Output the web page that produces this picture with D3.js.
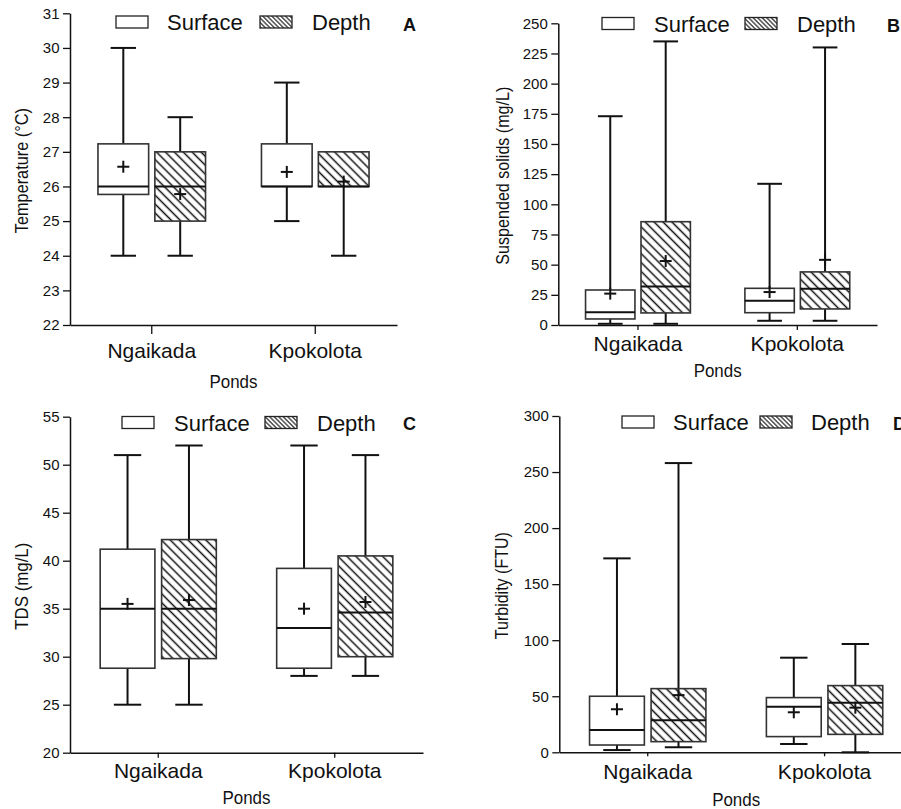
<!DOCTYPE html>
<html><head><meta charset="utf-8">
<script src="https://cdn.jsdelivr.net/npm/d3@7"></script>
<style>body{margin:0;background:#fff} svg{display:block;font-family:"Liberation Sans",Arial,Helvetica,sans-serif}</style>
</head><body><svg id="c" width="901" height="809"></svg>
<script>
// ---------- data ----------
const ponds = ["Ngaikada", "Kpokolota"];
const layers = ["Surface", "Depth"];
// each row (one per pond): [min, q1, median, q3, max, mean]
const tempSurface = [[24, 25.77, 26, 27.23, 30, 26.57], [25, 26, 26, 27.23, 29, 26.42]];
const tempDepth   = [[24, 25, 26, 27, 28, 25.78], [24, 26, 26, 27, 27, 26.14]];
const ssSurface   = [[1, 5, 10.5, 29, 173, 26], [3.5, 10.2, 20, 30.4, 117, 27.3]];
const ssDepth     = [[1, 10, 31.8, 85.6, 235, 53], [3.5, 13.3, 30, 44, 230, 54]];
const tdsSurface  = [[25, 28.8, 35, 41.2, 51, 35.5], [28, 28.8, 33, 39.2, 52, 35]];
const tdsDepth    = [[25, 29.8, 35, 42.2, 52, 35.9], [28, 30, 34.6, 40.5, 51, 35.7]];
const turbSurface = [[2, 6.5, 20, 50, 173, 38.4], [7.4, 14, 40.7, 48.8, 84.4, 35.7]];
const turbDepth   = [[4.5, 9.5, 28.5, 56.8, 258, 51], [0, 16, 44.3, 59.5, 96.6, 39.8]];
const tempTicks = [22, 23, 24, 25, 26, 27, 28, 29, 30, 31];
const ssTicks   = [0, 25, 50, 75, 100, 125, 150, 175, 200, 225, 250];
const tdsTicks  = [20, 25, 30, 35, 40, 45, 50, 55];
const turbTicks = [0, 50, 100, 150, 200, 250, 300];
const xTitle = "Ponds";
const panelLetters = ["A", "B", "C", "D"];
const yTitles = ["Temperature (°C)", "Suspended solids (mg/L)", "TDS (mg/L)", "Turbidity (FTU)"];

// ---------- layout ----------
const panels = [
  {letter: panelLetters[0], title: yTitles[0], surface: tempSurface, depth: tempDepth, ticks: tempTicks,
   x0: 70, x1: 397, yTop: 13.3, yBot: 325, catTick: 9, catDy: 33, pondsY: 388, titleX: 28, titleLen: 125,
   leg: {y: 16, sx: 116, stx: 167, dx: 260, dtx: 312, lx: 403, ly: 31}},
  {letter: panelLetters[1], title: yTitles[1], surface: ssSurface, depth: ssDepth, ticks: ssTicks,
   x0: 558.3, x1: 877, yTop: 23.3, yBot: 325, catTick: 5, catDy: 26, pondsY: 377, titleX: 509, titleLen: 178,
   leg: {y: 17.5, sx: 602, stx: 654, dx: 745, dtx: 797, lx: 887, ly: 32}},
  {letter: panelLetters[2], title: yTitles[2], surface: tdsSurface, depth: tdsDepth, ticks: tdsTicks,
   x0: 70, x1: 423, yTop: 416.7, yBot: 752.7, catTick: 5, catDy: 25.5, pondsY: 804, titleX: 28, titleLen: 87,
   leg: {y: 416.5, sx: 122, stx: 174, dx: 265, dtx: 317, lx: 403, ly: 430}},
  {letter: panelLetters[3], title: yTitles[3], surface: turbSurface, depth: turbDepth, ticks: turbTicks,
   x0: 559.3, x1: 913, yTop: 416, yBot: 752.3, catTick: 4, catDy: 26.5, pondsY: 806, titleX: 508, titleLen: 107,
   leg: {y: 416, sx: 622, stx: 673, dx: 760, dtx: 811, lx: 893, ly: 430}}
];

const svg = d3.select("#c");
const defs = svg.append("defs");
function hatch(id, s, w) {
  const p = defs.append("pattern").attr("id", id).attr("patternUnits", "userSpaceOnUse")
    .attr("width", s).attr("height", s).attr("patternTransform", "rotate(-45)");
  p.append("line").attr("x1", s / 2).attr("y1", 0).attr("x2", s / 2).attr("y2", s)
    .attr("stroke", "#111").attr("stroke-width", w);
}
hatch("hatch", 6.3, 1.5);
hatch("hatchLeg", 3.2, 1.1);

const ink = "#111";

panels.forEach(P => {
  const g = svg.append("g");
  const y = d3.scaleLinear().domain([P.ticks[0], P.ticks[P.ticks.length - 1]]).range([P.yBot, P.yTop]);
  const x = d3.scaleBand().domain(ponds).range([P.x0, P.x1]);
  const step = x.bandwidth();
  const boxW = 0.31 * step, gap = 0.038 * step;
  const sub = d3.scalePoint().domain(layers).range([-(boxW + gap) / 2, (boxW + gap) / 2]);
  const capW = 0.5 * boxW;

  // y axis
  const ya = g.append("g").attr("transform", `translate(${P.x0},0)`)
    .call(d3.axisLeft(y).tickValues(P.ticks).tickSize(7).tickPadding(3.5).tickSizeOuter(0));
  ya.select(".domain").attr("stroke", ink).attr("stroke-width", 1.5);
  ya.selectAll(".tick line").attr("stroke", ink).attr("stroke-width", 1.3);
  ya.selectAll(".tick text").attr("font-size", 15).attr("fill", ink)
    .attr("font-family", '"Liberation Sans",Arial,sans-serif');

  // x axis
  const xa = g.append("g").attr("transform", `translate(0,${P.yBot})`)
    .call(d3.axisBottom(x).tickSize(P.catTick).tickSizeOuter(0));
  xa.select(".domain").attr("stroke", ink).attr("stroke-width", 1.5);
  xa.selectAll(".tick line").attr("stroke", ink).attr("stroke-width", 1.3);
  xa.selectAll(".tick text").attr("font-size", 21).attr("fill", ink).attr("y", P.catDy).attr("dy", 0)
    .attr("font-family", '"Liberation Sans",Arial,sans-serif');

  // axis titles
  g.append("text").attr("x", (P.x0 + P.x1) / 2).attr("y", P.pondsY).attr("text-anchor", "middle")
    .attr("font-size", 18).attr("textLength", 48).attr("lengthAdjust", "spacingAndGlyphs")
    .attr("fill", ink).text(xTitle);
  g.append("text").attr("transform", `translate(${P.titleX},${(P.yTop + P.yBot) / 2 + 1.5}) rotate(-90)`)
    .attr("text-anchor", "middle").attr("font-size", 19)
    .attr("textLength", P.titleLen).attr("lengthAdjust", "spacingAndGlyphs")
    .attr("fill", ink).text(P.title);

  // boxes
  const rows = [];
  ponds.forEach((pond, i) => layers.forEach(layer => {
    const s = (layer === "Surface" ? P.surface : P.depth)[i];
    rows.push({pond, layer, min: s[0], q1: s[1], med: s[2], q3: s[3], max: s[4], mean: s[5]});
  }));
  rows.forEach(d => {
    const cx = x(d.pond) + step / 2 + sub(d.layer);
    const b = g.append("g");
    if (d.max > d.q3) {
      b.append("line").attr("x1", cx).attr("x2", cx).attr("y1", y(d.q3)).attr("y2", y(d.max))
        .attr("stroke", ink).attr("stroke-width", 2);
      b.append("line").attr("x1", cx - capW / 2).attr("x2", cx + capW / 2).attr("y1", y(d.max)).attr("y2", y(d.max))
        .attr("stroke", ink).attr("stroke-width", 2);
    }
    if (d.min < d.q1) {
      b.append("line").attr("x1", cx).attr("x2", cx).attr("y1", y(d.q1)).attr("y2", y(d.min))
        .attr("stroke", ink).attr("stroke-width", 2);
      b.append("line").attr("x1", cx - capW / 2).attr("x2", cx + capW / 2).attr("y1", y(d.min)).attr("y2", y(d.min))
        .attr("stroke", ink).attr("stroke-width", 2);
    }
    b.append("rect").attr("x", cx - boxW / 2).attr("y", y(d.q3)).attr("width", boxW)
      .attr("height", y(d.q1) - y(d.q3)).attr("fill", "#fff");
    if (d.layer === "Depth") {
      b.append("rect").attr("x", cx - boxW / 2).attr("y", y(d.q3)).attr("width", boxW)
        .attr("height", y(d.q1) - y(d.q3)).attr("fill", "url(#hatch)");
    }
    b.append("rect").attr("x", cx - boxW / 2).attr("y", y(d.q3)).attr("width", boxW)
      .attr("height", y(d.q1) - y(d.q3)).attr("fill", "none").attr("stroke", "#333").attr("stroke-width", 1.6);
    b.append("line").attr("x1", cx - boxW / 2).attr("x2", cx + boxW / 2).attr("y1", y(d.med)).attr("y2", y(d.med))
      .attr("stroke", ink).attr("stroke-width", 2);
    const m = 6;
    b.append("line").attr("x1", cx - m).attr("x2", cx + m).attr("y1", y(d.mean)).attr("y2", y(d.mean))
      .attr("stroke", ink).attr("stroke-width", 2);
    b.append("line").attr("x1", cx).attr("x2", cx).attr("y1", y(d.mean) - m).attr("y2", y(d.mean) + m)
      .attr("stroke", ink).attr("stroke-width", 2);
  });

  // legend
  const L = P.leg;
  g.append("rect").attr("x", L.sx).attr("y", L.y).attr("width", 32).attr("height", 12)
    .attr("fill", "#fff").attr("stroke", "#222").attr("stroke-width", 1.3);
  g.append("text").attr("x", L.stx).attr("y", L.y + 14).attr("font-size", 22).attr("fill", ink).text(layers[0]);
  g.append("rect").attr("x", L.dx).attr("y", L.y).attr("width", 32).attr("height", 12)
    .attr("fill", "url(#hatchLeg)").attr("stroke", "#222").attr("stroke-width", 1.3);
  g.append("text").attr("x", L.dtx).attr("y", L.y + 14).attr("font-size", 22).attr("fill", ink).text(layers[1]);
  g.append("text").attr("x", L.lx).attr("y", L.ly).attr("font-size", 18).attr("font-weight", "bold")
    .attr("fill", ink).text(P.letter);
});
</script>
</body></html>
